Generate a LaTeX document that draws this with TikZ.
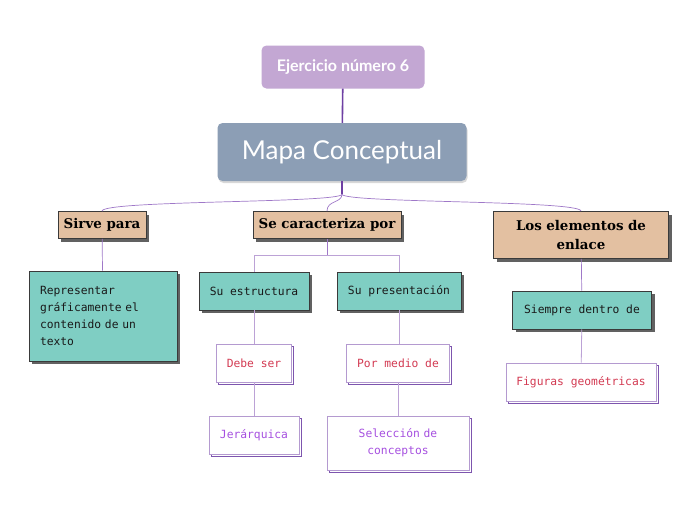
\documentclass[tikz,border=0pt]{standalone}
\usepackage{fontspec}
\setmainfont{Lato}
\newfontfamily\slabfont{DejaVu Serif}
\setmonofont{DejaVu Sans Mono}
\usetikzlibrary{positioning,shadows,calc}

\definecolor{ejfill}{HTML}{C3A7D3}
\definecolor{mapafill}{HTML}{8C9EB5}
\definecolor{tanfill}{HTML}{E3C0A1}
\definecolor{tealfill}{HTML}{7FCEC3}
\definecolor{boxline}{HTML}{3A3A3A}
\definecolor{trunkcol}{HTML}{6E3FA3}
\definecolor{linkcol}{HTML}{9F78C8}
\definecolor{lightlink}{HTML}{BCA2D6}
\definecolor{wbline}{HTML}{B49AD0}
\definecolor{wbshadow}{HTML}{7D55AE}
\definecolor{redtext}{HTML}{D33A52}
\definecolor{purpletext}{HTML}{A650E0}

\begin{document}
\begin{tikzpicture}[
					x = 1pt, y = -1pt,
					every node/.style = {inner sep = 0pt, align = center},
					topbox/.style = {fill = ejfill, rounded corners = 5pt, text = white,
						font = \fontsize{16}{19}\selectfont\bfseries},
					mapbox/.style = {fill = mapafill, rounded corners = 5pt, text = white,
						font = \fontsize{26}{30}\selectfont,
						drop shadow = {shadow xshift = 1pt, shadow yshift = -2pt, opacity = 0.3}},
					tanbox/.style = {fill = tanfill, draw = boxline, line width = 0.8pt,
						font = \slabfont\fontsize{13.4}{19}\selectfont\bfseries,
						drop shadow = {shadow xshift = 3pt, shadow yshift = -3pt, opacity = 0.8, fill = boxline}},
					tealbox/.style = {fill = tealfill, draw = boxline, line width = 0.8pt,
						font = \ttfamily\fontsize{11.3}{17}\selectfont, text = black!90,
						drop shadow = {shadow xshift = 3pt, shadow yshift = -3pt, opacity = 0.8, fill = boxline}},
					wbox/.style = {fill = white, draw = wbline, line width = 0.8pt,
						font = \ttfamily\fontsize{11.3}{17}\selectfont,
						general shadow = {shadow xshift = 2pt, shadow yshift = -2pt, draw = wbshadow, fill = white, line width = 0.8pt}},
					trunk/.style = {draw = trunkcol, line width = 1.6pt},
					link/.style = {draw = linkcol, line width = 0.7pt},
					sublink/.style = {draw = lightlink, line width = 0.8pt}
					]

					\useasboundingbox[fill = white] (0,0) rectangle (696,520);

					% top of the map
					\node[topbox, minimum width = 163pt, minimum height = 43pt] (ejercicio) at (343,67) {Ejercicio número 6};
					\node[mapbox, minimum width = 249pt, minimum height = 58pt] (mapa) at (342,152) {Mapa Conceptual};

					% first level
					\node[tanbox, minimum width = 88pt, minimum height = 27pt] (sirve) at (102,225) {Sirve para};
					\node[tanbox, minimum width = 148pt, minimum height = 27pt] (caracteriza) at (327,225) {Se caracteriza por};
					\node[tanbox, minimum width = 175pt, minimum height = 47pt, text width = 160pt] (enlace) at (581,235) {Los elementos de\\enlace};

					% second level
					\node[tealbox, minimum width = 148pt, minimum height = 90pt, text width = 126pt, align = left] (representar) at (103,316)
						{Representar\\gráficamente el\\contenido de un\\texto};
					\node[tealbox, minimum width = 110pt, minimum height = 38pt] (estructura) at (254,291) {Su estructura};
					\node[tealbox, minimum width = 124pt, minimum height = 38pt] (presentacion) at (399,291) {Su presentación};
					\node[tealbox, minimum width = 139pt, minimum height = 38pt] (siempre) at (582,310) {Siempre dentro de};

					% linking words and leaves
					\node[wbox, text = redtext, minimum width = 75pt, minimum height = 38pt] (debe) at (254,363) {Debe ser};
					\node[wbox, text = redtext, minimum width = 103pt, minimum height = 38pt] (medio) at (398,363) {Por medio de};
					\node[wbox, text = redtext, minimum width = 150pt, minimum height = 38pt] (figuras) at (581,382) {Figuras geométricas};
					\node[wbox, text = purpletext, minimum width = 90pt, minimum height = 38pt] (jerarquica) at (254,435) {Jerárquica};
					\node[wbox, text = purpletext, minimum width = 142pt, minimum height = 54pt, text width = 110pt] (seleccion) at (398,443)
						{Selección de\\conceptos};

					% connectors
					\draw[trunk] (ejercicio) -- (mapa);
					\draw[trunk] (mapa.south) -- ++(0,13) coordinate (hub);
					\foreach \child in {sirve,caracteriza,enlace}
						\draw[link] (hub) .. controls ($(hub)+(0,9)$) and ($(\child.north)+(0,-11)$) .. (\child.north);

					\draw[link] (caracteriza.south) -- ++(0,16) coordinate (split);
					\draw[sublink] (estructura.north) |- (split) -| (presentacion.north);

					\draw[link] (sirve) -- (representar);
					\draw[sublink] (estructura) -- (debe);
					\draw[sublink] (debe) -- (jerarquica);
					\draw[sublink] (presentacion.south) -- (presentacion.south |- medio.north);
					\draw[sublink] (medio) -- (seleccion);
					\draw[link] (enlace) -- (siempre);
					\draw[sublink] (siempre) -- (figuras);

				\end{tikzpicture}
\end{document}
